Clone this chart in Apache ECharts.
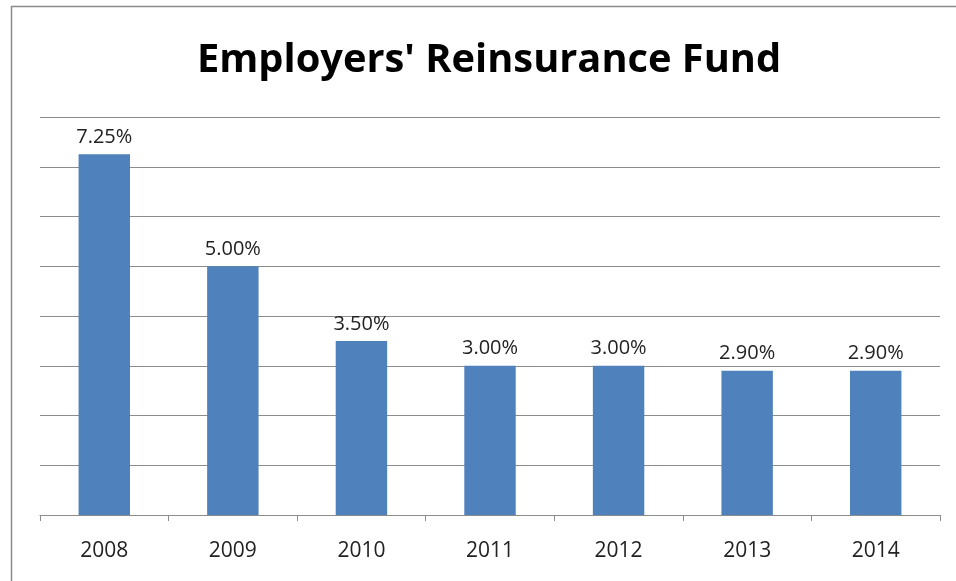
<!DOCTYPE html>
<html><head><meta charset="utf-8">
<script src="https://cdn.jsdelivr.net/npm/echarts@6/dist/echarts.min.js"></script>
<style>html,body{margin:0;padding:0;background:#fff}#c{width:956px;height:581px}</style>
</head><body><div id="c"></div>
<script>
const categories = ['2008','2009','2010','2011','2012','2013','2014'];
const values = [7.25, 5.00, 3.50, 3.00, 3.00, 2.90, 2.90];
const titleText = "Employers' Reinsurance Fund";

const chart = echarts.init(document.getElementById('c'));
chart.setOption({
  backgroundColor: '#fff',
  animation: false,
  graphic: [{type:'rect', shape:{x:11.5,y:6.5,width:1000,height:700}, style:{fill:'none',stroke:'#8a8a8a',lineWidth:1.5}, silent:true}],
  title: {text: titleText, left: 192, top: 36,
    textStyle:{fontFamily:'Open Sans', fontWeight:'bold', fontSize:39.8, color:'#000'}},
  grid: {left: 40, right: 16, top: 117, bottom: 66},
  xAxis: {type:'category', data: categories,
    axisLine:{lineStyle:{color:'#8c8c8c', width:1}},
    axisTick:{show:true, length:6, lineStyle:{color:'#8c8c8c'}},
    axisLabel:{margin:26, fontFamily:'Open Sans', fontSize:21, color:'#222'}},
  yAxis: {type:'value', min:0, max:8, interval:1,
    axisLabel:{show:false}, axisLine:{show:false}, axisTick:{show:false},
    splitLine:{lineStyle:{color:'#8c8c8c', width:1}}},
  series: [{type:'bar', data: values, barWidth:'40%',
    itemStyle:{color:'#4F81BD'},
    label:{show:true, position:'top', distance:7, fontFamily:'Open Sans', fontSize:20, color:'#222',
      formatter: p => p.value.toFixed(2) + '%'}}]
});
</script></body></html>
